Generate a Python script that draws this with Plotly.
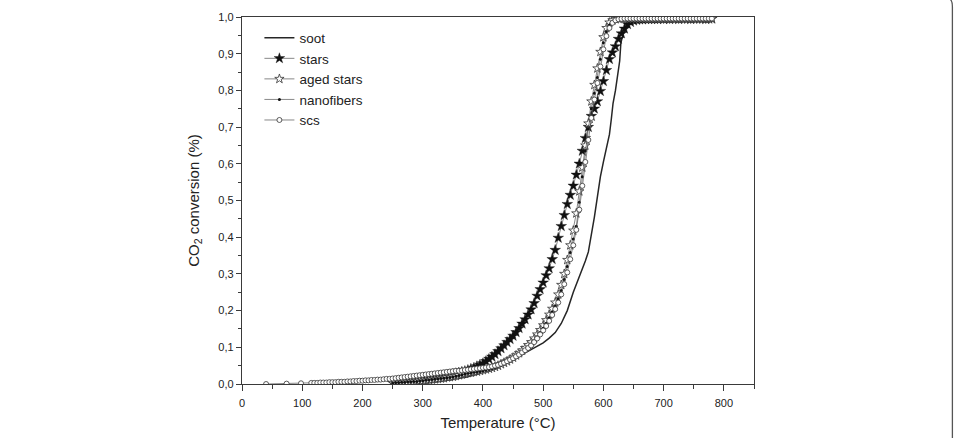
import plotly.graph_objects as go

# ---------------- data ----------------
temp_c = [
    250, 255, 260, 265, 270, 275, 280, 285, 290, 295,
    300, 305, 310, 315, 320, 325, 330, 335, 340, 345,
    350, 355, 360, 365, 370, 375, 380, 385, 390, 395,
    400, 405, 410, 415, 420, 425, 430, 435, 440, 445,
    450, 455, 460, 465, 470, 475, 480, 485, 490, 495,
    500, 505, 510, 515, 520, 525, 530, 535, 540, 545,
    550, 555, 560, 565, 570, 575, 580, 585, 590, 595,
    600, 605, 610, 615, 620, 625, 630, 635, 640, 645,
    650, 655, 660, 665, 670, 675, 680, 685, 690, 695,
    700, 705, 710, 715, 720, 725, 730, 735, 740, 745,
    750, 755, 760, 765, 770, 775, 780,
]

stars = [
    .003, .004, .005, .005, .006, .007, .008, .009, .010, .011,
    .012, .013, .014, .016, .017, .019, .020, .022, .023, .025,
    .027, .029, .031, .033, .035, .038, .041, .044, .048, .052,
    .056, .062, .068, .074, .081, .089, .097, .105, .114, .122,
    .131, .141, .152, .164, .176, .189, .203, .220, .240, .258,
    .276, .296, .315, .340, .365, .398, .430, .460, .490, .515,
    .540, .570, .600, .635, .670, .700, .730, .750, .770, .798,
    .825, .855, .885, .903, .920, .940, .955, .968, .980, .986,
    .990, .992, .993, .993, .994, .994, .994, .994, .994, .995,
    .994, .995, .994, .995, .995, .994, .995, .995, .995, .994,
    .995, .995, .995, .995, .994, .995, .995,
]

aged_stars = [
    .004, .004, .005, .005, .006, .006, .007, .007, .008, .009,
    .009, .010, .011, .012, .013, .014, .015, .016, .018, .019,
    .020, .022, .024, .026, .028, .030, .031, .033, .034, .036,
    .038, .040, .042, .044, .047, .050, .054, .058, .062, .067,
    .072, .078, .084, .091, .098, .106, .114, .124, .135, .147,
    .160, .174, .189, .205, .222, .244, .270, .300, .338, .378,
    .418, .465, .525, .590, .650, .710, .770, .815, .860, .905,
    .945, .970, .985, .991, .994, .995, .996, .996, .996, .996,
    .996, .996, .996, .996, .996, .996, .996, .996, .996, .996,
    .996, .996, .996, .996, .996, .996, .996, .996, .996, .996,
    .996, .996, .996, .996, .996, .996, .996,
]

nanofibers = [
    .003, .004, .004, .005, .005, .006, .006, .007, .007, .008,
    .009, .010, .011, .012, .013, .014, .015, .016, .017, .018,
    .019, .021, .023, .025, .027, .029, .030, .032, .033, .034,
    .036, .038, .040, .042, .044, .047, .051, .055, .059, .063,
    .068, .074, .080, .086, .093, .100, .108, .118, .129, .140,
    .152, .165, .180, .196, .212, .232, .255, .285, .320, .358,
    .395, .430, .495, .565, .635, .695, .750, .792, .835, .885,
    .930, .960, .978, .988, .993, .995, .996, .996, .996, .996,
    .996, .996, .996, .996, .996, .996, .996, .996, .996, .996,
    .996, .996, .996, .996, .996, .996, .996, .996, .996, .996,
    .996, .996, .996, .996, .996, .996, .996,
]

scs_temp = [
    40, 74, 98,
    115, 120, 125, 130, 135, 140, 145, 150, 155, 160,
    165, 170, 175, 180, 185, 190, 195, 200, 205, 210,
    215, 220, 225, 230, 235, 240, 245,
] + temp_c

scs = [
    .000, .001, .002,
    .003, .003, .003, .004, .004, .004, .005, .005, .005, .006,
    .006, .006, .007, .007, .008, .008, .009, .009, .010, .010,
    .011, .011, .012, .012, .013, .014, .014,
    .015, .016, .017, .018, .019, .020, .021, .022, .023, .024,
    .025, .026, .027, .028, .029, .030, .031, .032, .033, .034,
    .035, .036, .036, .037, .038, .039, .040, .041, .042, .043,
    .044, .045, .046, .048, .050, .052, .055, .058, .062, .066,
    .070, .075, .080, .086, .092, .098, .105, .114, .124, .135,
    .146, .158, .172, .188, .204, .222, .244, .272, .304, .340,
    .378, .420, .475, .540, .605, .665, .725, .775, .820, .865,
    .912, .948, .970, .984, .991, .994, .995, .996, .996, .996,
    .996, .996, .996, .996, .996, .996, .996, .996, .996, .996,
    .996, .996, .996, .996, .996, .996, .996, .996, .996, .996,
    .996, .996, .996, .996, .996, .996, .996,
]

soot_temp = [250, 275, 300, 325, 350, 375, 400, 425, 440, 455, 470, 485,
             500, 510, 520, 530, 540, 550, 555, 560, 565, 570, 575, 580,
             585, 590, 595, 600, 605, 610, 613, 616, 620, 624, 627, 629,
             633, 640, 645, 650, 660, 680, 700, 740, 780]
soot = [.000, .002, .004, .007, .012, .020, .031, .045, .057, .069, .085, .098,
        .112, .125, .140, .165, .200, .250, .270, .295, .310, .335, .360, .405,
        .455, .510, .565, .605, .640, .680, .720, .765, .800, .840, .880, .930,
        .955, .975, .984, .990, .993, .994, .994, .995, .995]

x_ticks = [0, 100, 200, 300, 400, 500, 600, 700, 800]
y_ticks = [0.0, 0.1, 0.2, 0.3, 0.4, 0.5, 0.6, 0.7, 0.8, 0.9, 1.0]
y_tick_text = ["0,0", "0,1", "0,2", "0,3", "0,4", "0,5", "0,6", "0,7", "0,8", "0,9", "1,0"]

# ---------------- figure ----------------
FONT = "Liberation Sans, Arial, sans-serif"
INK = "#222222"
LINE = "#3a3a3a"

fig = go.Figure()

fig.add_trace(go.Scatter(
    x=soot_temp, y=soot, name="soot", mode="lines",
    line=dict(color="#262626", width=1.5),
))
fig.add_trace(go.Scatter(
    x=temp_c, y=stars, name="stars", mode="lines+markers",
    line=dict(color="#555555", width=0.7),
    marker=dict(symbol="star", size=8, color="#111111",
                line=dict(color="#111111", width=0.4)),
))
fig.add_trace(go.Scatter(
    x=temp_c, y=aged_stars, name="aged stars", mode="lines+markers",
    line=dict(color="#555555", width=0.7),
    marker=dict(symbol="star", size=7, color="white",
                line=dict(color="#333333", width=0.8)),
))
fig.add_trace(go.Scatter(
    x=temp_c, y=nanofibers, name="nanofibers", mode="lines+markers",
    line=dict(color="#555555", width=0.7),
    marker=dict(symbol="circle", size=3, color="#111111"),
))
fig.add_trace(go.Scatter(
    x=scs_temp, y=scs, name="scs", mode="lines+markers",
    line=dict(color="#555555", width=0.7),
    marker=dict(symbol="circle", size=5, color="white",
                line=dict(color="#333333", width=0.8)),
))

axis_common = dict(
    showline=True, linecolor=LINE, linewidth=1.3, mirror=True,
    showgrid=False, zeroline=False, automargin=False,
    ticks="outside", tickcolor=LINE, tickwidth=1.2,
    tickfont=dict(family=FONT, size=11, color=INK),
)

fig.update_xaxes(
    range=[0, 850], tickvals=x_ticks, ticklen=6, ticklabelstandoff=3,
    minor=dict(dtick=50, tick0=0, ticks="outside", ticklen=3.5,
               tickcolor=LINE, tickwidth=1.1),
    title=dict(text="Temperature (°C)", font=dict(family=FONT, size=15, color=INK),
               standoff=9),
    **axis_common,
)
fig.update_yaxes(
    range=[0, 1.0], tickvals=y_ticks, ticktext=y_tick_text, ticklen=5,
    minor=dict(dtick=0.05, tick0=0, ticks="outside", ticklen=3,
               tickcolor=LINE, tickwidth=1.1),
    title=dict(text="CO<sub>2</sub> conversion (%)",
               font=dict(family=FONT, size=15, color=INK), standoff=15),
    **axis_common,
)

# figure frame (rounded border at right edge of the page image)
fig.add_shape(
    type="path", xref="paper", yref="paper",
    path="M 1.3875,-0.2 L 1.3875,1.028 Q 1.3875,1.047 1.381,1.050",
    line=dict(color="#555555", width=1.3),
)

fig.update_layout(
    width=959, height=438,
    margin=dict(l=242, r=205, t=17, b=54, autoexpand=False),
    paper_bgcolor="white", plot_bgcolor="white",
    font=dict(family=FONT, color=INK),
    showlegend=True,
    legend=dict(
        x=0.034, y=0.985, xanchor="left", yanchor="top",
        bgcolor="rgba(0,0,0,0)", borderwidth=0,
        font=dict(family=FONT, size=13.5, color=INK),
        itemwidth=30, tracegroupgap=0,
    ),
)

fig.write_html("out.html")
